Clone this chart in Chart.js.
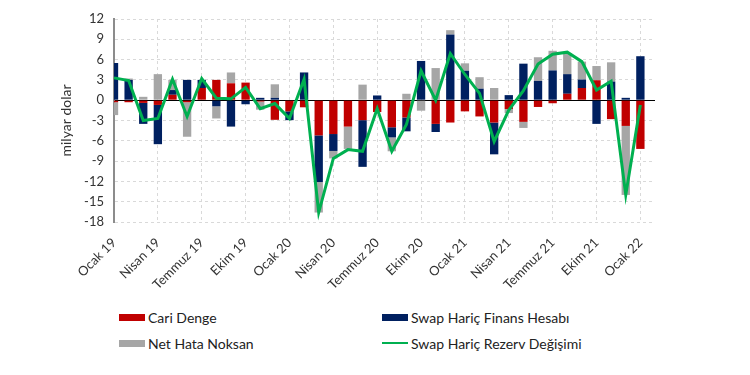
<!DOCTYPE html>
<html>
<head>
<meta charset="utf-8">
<script src="https://cdn.jsdelivr.net/npm/chart.js@4/dist/chart.umd.min.js"></script>
<style>
    body { margin: 0; background: #fff; }
    #wrap { position: relative; width: 750px; height: 375px; font-family: Lato, sans-serif; }
    #chart { position: absolute; left: 0; top: 0; }
    .leg { position: absolute; display: flex; align-items: center; font-size: 14px; color: #222; white-space: nowrap; }
    .sw { width: 26px; height: 7px; margin-right: 3px; }
</style>
</head>
<body>
<div id="wrap">
    <canvas id="chart" width="750" height="300"></canvas>
</div>
<script>
// Aylar: Ocak 19 - Şubat 22 (son ay boş)
const months = [
    'Ocak 19', 'Şubat 19', 'Mart 19', 'Nisan 19', 'Mayıs 19', 'Haziran 19',
    'Temmuz 19', 'Ağustos 19', 'Eylül 19', 'Ekim 19', 'Kasım 19', 'Aralık 19',
    'Ocak 20', 'Şubat 20', 'Mart 20', 'Nisan 20', 'Mayıs 20', 'Haziran 20',
    'Temmuz 20', 'Ağustos 20', 'Eylül 20', 'Ekim 20', 'Kasım 20', 'Aralık 20',
    'Ocak 21', 'Şubat 21', 'Mart 21', 'Nisan 21', 'Mayıs 21', 'Haziran 21',
    'Temmuz 21', 'Ağustos 21', 'Eylül 21', 'Ekim 21', 'Kasım 21', 'Aralık 21',
    'Ocak 22', 'Şubat 22'
];

// milyar dolar
const cariDenge = [-0.3, -0.3, -0.4, -0.7, 0.8, -0.3, 1.8, 3.0, 2.5, 2.6, -0.2, -2.9,
    -1.65, -1.05, -5.2, -5.0, -3.9, -2.95, -1.75, -4.0, -2.55, 0, -3.5, -3.3,
    -1.65, -2.4, -3.3, -1.3, -3.2, -1.0, -0.45, 0.95, 1.8, 2.95, -2.8, -3.8,
    -7.2, null];
const finansHesabi = [5.5, 3.0, -3.1, -5.8, 0.7, 3.0, 1.2, -0.9, -3.9, -0.6, 0.35, 0.35,
    -1.3, 4.1, -6.9, -2.5, 0, -6.9, 0.7, -1.5, -2.05, 5.8, -1.2, 9.7,
    4.35, 1.7, -4.7, 0.75, 5.4, 2.85, 4.4, 2.9, 1.25, -3.5, 2.75, 0.35,
    6.5, null];
const netHata = [-1.9, 0.2, 0.5, 3.85, 1.5, -5.1, 0, -1.8, 1.6, 0, -1.2, 2.0,
    0, 0, -4.5, -1.1, -3.3, 2.3, 0, -2.05, 0.95, -1.55, 4.75, 0.65,
    1.1, 1.7, 1.8, -0.6, -0.9, 3.5, 2.9, 3.1, 2.65, 2.1, 2.85, -10.2,
    0, null];
const rezervDegisimi = [3.3, 2.9, -3.0, -2.7, 3.1, -2.4, 3.2, 0.3, 0.2, 1.9, -1.25, -0.5,
    -2.7, 3.1, -16.6, -8.6, -7.3, -7.55, -1.25, -7.55, -3.6, 4.35, 0.0, 6.9,
    3.8, 1.0, -6.1, -1.45, 1.4, 5.35, 6.8, 7.1, 5.7, 1.5, 2.8, -14.0,
    -0.7, null];

const yMin = -18, yMax = 12, yStep = 3;

const colors = {
    cari: '#C00000',
    finans: '#002060',
    hata: '#A6A6A6',
    rezerv: '#00B050'
};

const barCommon = { type: 'bar', stack: 'bars', order: 1, barPercentage: 0.57, categoryPercentage: 1, clip: 0 };

const datasets = [
    { ...barCommon, label: 'Cari Denge', data: cariDenge, backgroundColor: colors.cari },
    { ...barCommon, label: 'Swap Hariç Finans Hesabı', data: finansHesabi, backgroundColor: colors.finans },
    { ...barCommon, label: 'Net Hata Noksan', data: netHata, backgroundColor: colors.hata },
    {
        type: 'line', stack: 'line', order: 0,
        label: 'Swap Hariç Rezerv Değişimi', data: rezervDegisimi,
        borderColor: colors.rezerv, borderWidth: 3, pointRadius: 0, tension: 0, fill: false
    }
];

const chart = new Chart(document.getElementById('chart'), {
    data: { labels: months, datasets: datasets },
    options: {
        responsive: false,
        animation: false,
        devicePixelRatio: 1,
        layout: { padding: { left: 58, right: 95, top: 19, bottom: 0 } },
        plugins: { legend: { display: false }, tooltip: { enabled: false } },
        scales: {
            x: {
                stacked: true,
                offset: false,
                grid: {
                    offset: false,
                    drawTicks: false,
                    color: (ctx) => ctx.index % 3 === 0 ? '#d9d9d9' : 'rgba(0,0,0,0)'
                },
                border: { display: false, dash: (ctx) => ctx.type === 'tick' ? [3, 3] : [] },
                ticks: {
                    autoSkip: false,
                    minRotation: 45,
                    maxRotation: 45,
                    padding: 13,
                    color: '#333',
                    font: { family: 'Lato', size: 13 },
                    callback: function (val, i) { return i % 3 === 0 ? months[i] : ''; }
                },
                afterFit: (scale) => { scale.height = 78; }
            },
            y: {
                stacked: true,
                min: yMin,
                max: yMax,
                ticks: { stepSize: yStep, padding: 10, color: '#333', font: { family: 'Lato', size: 13 } },
                grid: {
                    drawTicks: false,
                    color: (ctx) => ctx.tick && ctx.tick.value === 0 ? '#000' : '#d9d9d9'
                },
                border: {
                    color: '#8c8c8c',
                    width: 2,
                    dash: (ctx) => ctx.type === 'tick' ? (ctx.tick.value === 0 ? [] : [3, 3]) : []
                },
                title: { display: true, text: 'milyar dolar', color: '#333', font: { family: 'Lato', size: 14 }, padding: 0 },
                afterFit: (scale) => { scale.width = 56; }
            }
        }
    }
});

// Lejant: iki sütun, iki satır
const legendPos = [
    { ds: 0, left: 119, top: 317 },
    { ds: 1, left: 382, top: 317 },
    { ds: 2, left: 119, top: 343 },
    { ds: 3, left: 382, top: 343 }
];
const wrap = document.getElementById('wrap');
legendPos.forEach(p => {
    const ds = datasets[p.ds];
    const item = document.createElement('div');
    item.className = 'leg';
    item.style.left = p.left + 'px';
    item.style.top = (p.top - 9) + 'px';
    item.style.height = '18px';
    const sw = document.createElement('span');
    sw.className = 'sw';
    if (ds.type === 'line') {
        sw.style.height = '2px';
        sw.style.background = ds.borderColor;
    } else {
        sw.style.background = ds.backgroundColor;
    }
    const txt = document.createElement('span');
    txt.textContent = ds.label;
    item.appendChild(sw);
    item.appendChild(txt);
    wrap.appendChild(item);
});
</script>
</body>
</html>
